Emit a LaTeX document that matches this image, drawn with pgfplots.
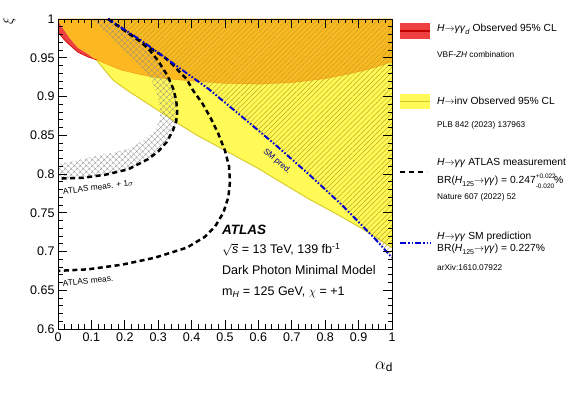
\documentclass[border=0pt]{standalone}
\usepackage{fontspec}
\setmainfont{Liberation Sans}
\usepackage{pgfplots}
\pgfplotsset{compat=1.18}
\usetikzlibrary{patterns.meta}

\definecolor{exred}{RGB}{238,64,64}
\definecolor{exorange}{RGB}{252,184,32}
\definecolor{exyellow}{RGB}{255,250,85}
\definecolor{yline}{RGB}{215,200,40}
\definecolor{smhatch}{RGB}{190,165,40}
\definecolor{smblue}{RGB}{0,0,210}

\newcommand{\Hto}{\textit{H}$\rightarrow$}
\newcommand{\smallfnt}{\fontsize{8.3}{9.5}\selectfont}

\begin{document}
\begin{tikzpicture}
\useasboundingbox (0pt,0pt) rectangle (581pt,393pt);
\begin{axis}[
  at={(58pt,64pt)}, anchor=south west,
  scale only axis, width=334pt, height=310pt,
  xmin=0, xmax=1, ymin=0.6, ymax=1,
  axis on top,
  xtick={0,0.1,0.2,0.3,0.4,0.5,0.6,0.7,0.8,0.9,1},
  xticklabels={0,0.1,0.2,0.3,0.4,0.5,0.6,0.7,0.8,0.9,1},
  ytick={0.6,0.65,0.7,0.75,0.8,0.85,0.9,0.95,1},
  yticklabels={0.6,0.65,0.7,0.75,0.8,0.85,0.9,0.95,1},
  minor x tick num=4, minor y tick num=4,
  tick align=inside,
  major tick length=9pt, minor tick length=4.5pt,
  tick style={black, line width=0.8pt},
  axis line style={line width=0.9pt},
  tick label style={font=\fontsize{12.5}{14}\selectfont},
]
% H -> gamma gamma_d (red) excluded region
\addplot[fill=exred, draw=none] coordinates {
 (0,0.983) (0.015,0.975) (0.036,0.966) (0.06,0.957) (0.09,0.951) (0.117,0.947)
 (0.15,0.941) (0.19,0.934) (0.25,0.928) (0.3,0.924) (0.4,0.920) (0.5,0.917)
 (0.6,0.916) (0.7,0.918) (0.8,0.923) (0.87,0.929) (0.92,0.934) (0.96,0.939) (1,0.945)
 (1,1) (0,1)} -- cycle;
% H -> inv (yellow) excluded region
\addplot[fill=exyellow, draw=none] coordinates {
 (0,0.998) (0.015,0.988) (0.036,0.975) (0.06,0.963) (0.09,0.955) (0.117,0.946)
 (0.165,0.921) (0.207,0.908) (0.25,0.896) (0.3,0.882) (0.356,0.866) (0.416,0.850)
 (0.515,0.827) (0.6,0.807) (0.665,0.790) (0.75,0.768) (0.844,0.746) (0.92,0.727) (1,0.705)
 (1,1) (0,1)} -- cycle;
% overlap of both
\addplot[fill=exorange, draw=none] coordinates {
 (0,0.998) (0.015,0.988) (0.036,0.975) (0.06,0.963) (0.09,0.955) (0.117,0.947)
 (0.15,0.941) (0.19,0.934) (0.25,0.928) (0.3,0.924) (0.4,0.920) (0.5,0.917)
 (0.6,0.916) (0.7,0.918) (0.8,0.923) (0.87,0.929) (0.92,0.934) (0.96,0.939) (1,0.945)
 (1,1) (0,1)} -- cycle;
% boundaries
\addplot[red!80!black, line width=0.6pt] coordinates {
 (0,0.983) (0.015,0.975) (0.036,0.966) (0.06,0.957) (0.09,0.951) (0.117,0.947)};
\addplot[orange!90!black, line width=0.5pt, opacity=0.5] coordinates {
 (0.117,0.947) (0.15,0.941) (0.19,0.934) (0.25,0.928) (0.3,0.924) (0.4,0.920) (0.5,0.917)
 (0.6,0.916) (0.7,0.918) (0.8,0.923) (0.87,0.929) (0.92,0.934) (0.96,0.939) (1,0.945)};
\addplot[yline, line width=0.9pt] coordinates {
 (0.117,0.946) (0.165,0.921) (0.207,0.908) (0.25,0.896) (0.3,0.882) (0.356,0.866) (0.416,0.850)
 (0.515,0.827) (0.6,0.807) (0.665,0.790) (0.75,0.768) (0.844,0.746) (0.92,0.727) (1,0.705)};
% ATLAS measurement +1 sigma band (cross-hatched)
\addplot[pattern={Hatch[angle=45,distance=4pt,line width=0.4pt]}, pattern color=black!45, draw=none] coordinates {
 (0.102,1.0) (0.15,0.98) (0.2,0.958) (0.245,0.94) (0.275,0.925) (0.295,0.905) (0.306,0.885)
 (0.305,0.870) (0.29,0.857) (0.26,0.845) (0.216,0.833) (0.15,0.826) (0.09,0.821) (0.04,0.816) (0,0.813)
 (0,0.794) (0.072,0.795) (0.141,0.799) (0.21,0.806) (0.269,0.819) (0.30,0.829) (0.325,0.841)
 (0.344,0.856) (0.354,0.868) (0.357,0.880) (0.354,0.895) (0.345,0.910) (0.329,0.926) (0.30,0.946)
 (0.27,0.962) (0.24,0.973) (0.2,0.985) (0.15,1.0)} -- cycle;
% region above SM prediction (hatched)
\addplot[pattern={Lines[angle=45,distance=3.6pt,line width=0.5pt]}, pattern color=smhatch, draw=none] coordinates {
 (0.15,1.0) (0.25,0.972) (0.35,0.941) (0.45,0.910) (0.545,0.876) (0.65,0.838) (0.75,0.800)
 (0.85,0.760) (0.95,0.716) (1,0.692) (1,1)} -- cycle;
% ATLAS measurement + 1 sigma
\addplot[black, line width=2.5pt, dash pattern=on 5pt off 3.5pt] coordinates {
 (0.15,1.0) (0.2,0.985) (0.24,0.973) (0.27,0.962) (0.30,0.946) (0.329,0.926) (0.345,0.910)
 (0.354,0.895) (0.357,0.880) (0.354,0.868) (0.344,0.856) (0.325,0.841) (0.30,0.829) (0.269,0.819)
 (0.21,0.806) (0.141,0.799) (0.072,0.795) (0,0.794)};
% ATLAS measurement
\addplot[black, line width=2.5pt, dash pattern=on 5pt off 3.5pt] coordinates {
 (0.15,1.0) (0.2,0.985) (0.24,0.973) (0.284,0.960) (0.311,0.953) (0.335,0.945) (0.359,0.934)
 (0.386,0.922) (0.404,0.908) (0.431,0.892) (0.455,0.874) (0.479,0.853) (0.50,0.830) (0.512,0.81)
 (0.515,0.79) (0.510,0.770) (0.495,0.750) (0.470,0.732) (0.44,0.719) (0.386,0.705) (0.290,0.692)
 (0.192,0.683) (0.090,0.677) (0,0.675)};
% SM prediction
\addplot[smblue, line width=2pt, dash pattern=on 6pt off 2pt on 1.5pt off 2pt on 1.5pt off 2pt] coordinates {
 (0.15,1.0) (0.25,0.972) (0.35,0.941) (0.45,0.910) (0.545,0.876) (0.65,0.838) (0.75,0.800)
 (0.85,0.760) (0.95,0.716) (1,0.692)};
\node[rotate=7, font=\smallfnt] at (axis cs:0.12,0.783) {ATLAS meas. + 1$\sigma$};
\node[rotate=6, font=\smallfnt] at (axis cs:0.09,0.662) {ATLAS meas.};
\node[rotate=-41, font=\smallfnt, text=smblue!60!black] at (axis cs:0.656,0.816) {SM pred.};
\end{axis}

\begin{scope}[x=1pt, y=1pt]
% axis titles
\node[rotate=90] at (9,372) {\fontsize{14}{15}\selectfont$\xi$};
\node at (384,26) {\fontsize{17}{19}\selectfont$\alpha_{\mathrm{d}}$};
% ATLAS label block
\node[anchor=base west, inner sep=0pt] at (222,158) {\fontsize{13.5}{15}\selectfont\bfseries\itshape ATLAS};
\node[anchor=base west, inner sep=0pt] at (222,139) {\fontsize{12.5}{14}\selectfont $\sqrt{\textit{s}}$ = 13 TeV, 139 fb\textsuperscript{-1}};
\node[anchor=base west, inner sep=0pt] at (222,118) {\fontsize{12.5}{14}\selectfont Dark Photon Minimal Model};
\node[anchor=base west, inner sep=0pt] at (222,97) {\fontsize{12.5}{14}\selectfont m\textsubscript{\textit{H}} = 125 GeV, $\chi$ = +1};
% legend
\fill[exred] (400,354) rectangle (430,370);
\draw[red!75!black, line width=1.5pt] (400,362) -- (430,362);
\fill[exyellow] (400,284) rectangle (430,299);
\draw[yline, line width=1.5pt] (400,291.5) -- (430,291.5);
\draw[black, line width=2.5pt, dash pattern=on 5pt off 4pt] (400,221) -- (427,221);
\draw[smblue, line width=2pt, dash pattern=on 6pt off 2pt on 1.5pt off 2pt on 1.5pt off 2pt] (400,150) -- (431,150);
\begin{scope}[every node/.style={anchor=base west, inner sep=0pt, font=\fontsize{10.3}{12}\selectfont}]
\node at (437,361.3) {\Hto\textit{γγ}\raisebox{-0.6ex}{\fontsize{7.5}{8}\selectfont\textit{d}} Observed 95\% CL};
\node[font=\smallfnt] at (437,335) {VBF-\textit{ZH} combination};
\node at (437,288.3) {\Hto inv Observed 95\% CL};
\node[font=\smallfnt] at (437,265) {PLB 842 (2023) 137963};
\node at (437,227.3) {\Hto\textit{γγ} ATLAS measurement};
\node at (437,209.3) {BR(\textit{H}\raisebox{-0.5ex}{\fontsize{7}{8}\selectfont 125}$\rightarrow$\textit{γγ}) = 0.247\rlap{\raisebox{0.9ex}{\fontsize{6.5}{7}\selectfont +0.022}}\raisebox{-0.8ex}{\fontsize{6.5}{7}\selectfont -0.020}\%};
\node[font=\smallfnt] at (437,193) {Nature 607 (2022) 52};
\node at (437,153.3) {\Hto\textit{γγ} SM prediction};
\node at (437,141.3) {BR(\textit{H}\raisebox{-0.5ex}{\fontsize{7}{8}\selectfont 125}$\rightarrow$\textit{γγ}) = 0.227\%};
\node[font=\smallfnt] at (437,122) {arXiv:1610.07922};
\end{scope}
\end{scope}
\end{tikzpicture}
\end{document}
